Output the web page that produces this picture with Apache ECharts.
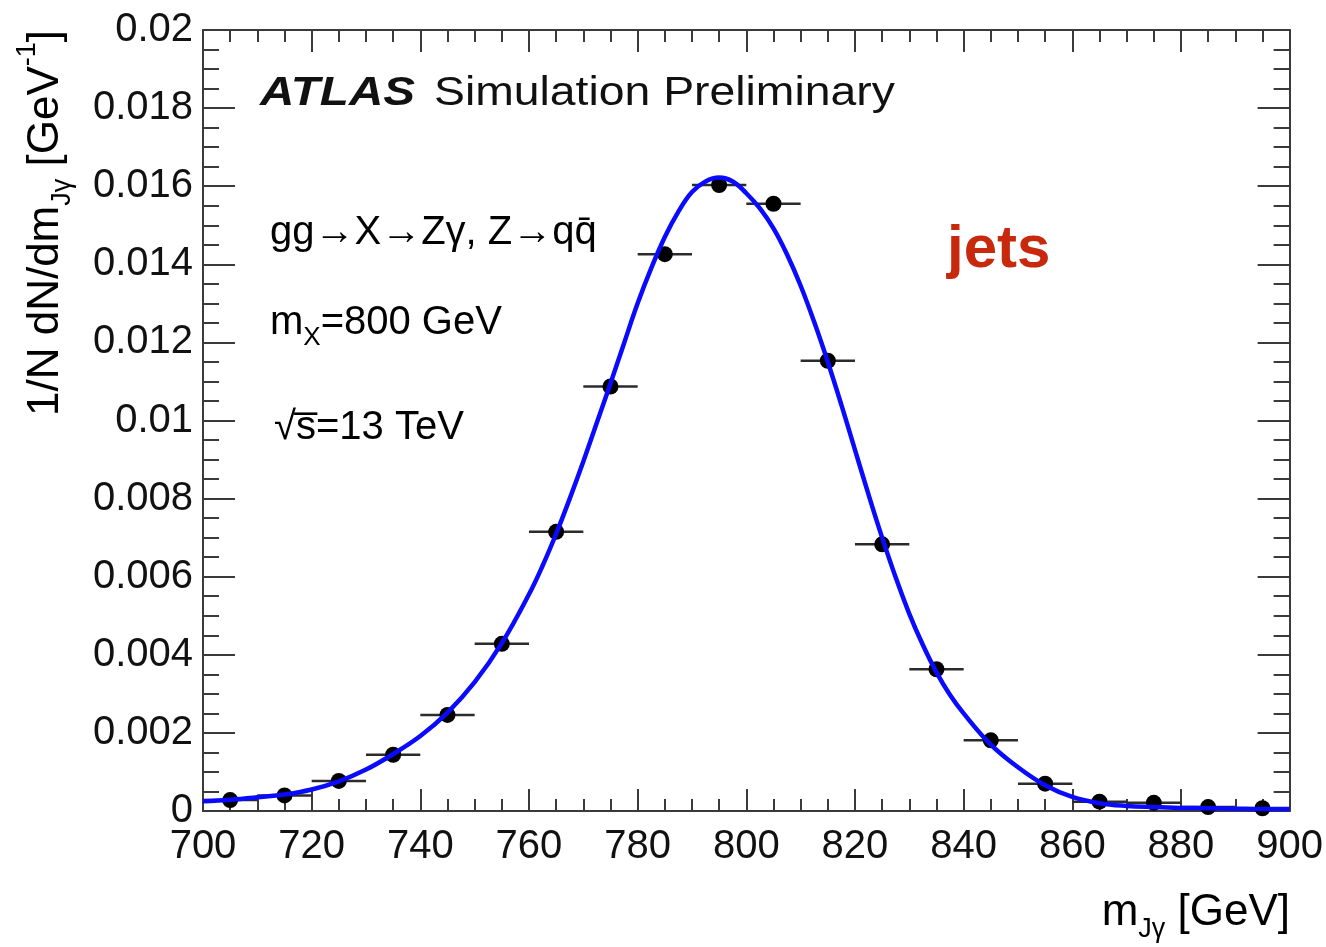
<!DOCTYPE html>
<html>
<head>
<meta charset="utf-8">
<script src="https://cdn.jsdelivr.net/npm/echarts@6/dist/echarts.min.js"></script>
<style>
  html, body { margin: 0; padding: 0; background: #ffffff; }
  #chart { width: 1326px; height: 947px; }
</style>
</head>
<body>
<div id="chart"></div>
<script>
// Normalised m_Jγ distribution for gg→X→Zγ, Z→qq̄ at m_X = 800 GeV, with its fitted signal shape.

// Simulated histogram: bin centres [GeV] and normalised content [1/GeV]
const binCenters = [705, 715, 725, 735, 745, 755, 765, 775, 785, 795,
                    805, 815, 825, 835, 845, 855, 865, 875, 885, 895];
const binContent = [0.00028, 0.00040, 0.00077, 0.00144, 0.00246, 0.00428, 0.00715, 0.01087, 0.01426, 0.01603,
                    0.01555, 0.01153, 0.00683, 0.00363, 0.00181, 0.00070, 0.00024, 0.00021, 0.00010, 0.00007];
const binHalfWidth = 5;

// Fitted signal shape sampled along m_Jγ (finer steps through the core)
const fitMass = [700, 705, 710, 715, 720, 725, 730, 735, 740, 745, 750, 755,
                 760, 762.5, 765, 767.5, 770, 772.5, 775, 777.5, 780, 782.5, 785, 787.5, 790, 792.5,
                 795, 797.5, 800, 802.5, 805, 807.5, 810, 812.5, 815, 817.5, 820, 822.5, 825, 827.5,
                 830, 832.5, 835, 837.5, 840,
                 845, 850, 855, 860, 865, 870, 875, 880, 885, 890, 895, 900];
const fitDensity = [0.00025, 0.00029, 0.00035, 0.00042, 0.00055, 0.00076, 0.00106, 0.00146, 0.00192, 0.00252, 0.00330, 0.00430,
                    0.00555, 0.00628, 0.00710, 0.00800, 0.00895, 0.00995, 0.01095, 0.01198, 0.01300, 0.01390, 0.01470, 0.01535, 0.01585, 0.01612,
                    0.01622, 0.01612, 0.01582, 0.01543, 0.01492, 0.01425, 0.01345, 0.01252, 0.01150, 0.01040, 0.00925, 0.00810, 0.00700, 0.00598,
                    0.00505, 0.00425, 0.00355, 0.00297, 0.00250,
                    0.00170, 0.00112, 0.00066, 0.00036, 0.00020, 0.00013, 0.00010, 0.00008, 0.00007, 0.00006, 0.00005, 0.00005];

// Axis ticks and their labels
const xTicks = [700, 720, 740, 760, 780, 800, 820, 840, 860, 880, 900];
const xTickLabels = ['700', '720', '740', '760', '780', '800', '820', '840', '860', '880', '900'];
const yTicks = [0, 0.002, 0.004, 0.006, 0.008, 0.01, 0.012, 0.014, 0.016, 0.018, 0.02];
const yTickLabels = ['0', '0.002', '0.004', '0.006', '0.008', '0.01', '0.012', '0.014', '0.016', '0.018', '0.02'];

const FONT = '"Liberation Sans", Arial, Helvetica, sans-serif';
const INK = '#111111';
const FRAME = '#3a3a3a';

function tickLabel(ticks, labels) {
  return function (v) {
    const i = ticks.findIndex(t => Math.abs(t - v) < 1e-9);
    return i >= 0 ? labels[i] : '';
  };
}

const points = binCenters.map((m, i) => [m, binContent[i]]);
const fitCurve = fitMass.map((m, i) => [m, fitDensity[i]]);

function xAxisDef(position, showLabels) {
  return {
    type: 'value', gridIndex: 0, position: position,
    min: 700, max: 900, interval: 20,
    axisLine: { show: true, onZero: false, lineStyle: { color: FRAME, width: 2 } },
    axisTick: { show: true, inside: true, length: 22, lineStyle: { color: FRAME, width: 2 } },
    minorTick: { show: true, splitNumber: 4, length: 12, lineStyle: { color: FRAME, width: 2 } },
    splitLine: { show: false },
    minorSplitLine: { show: false },
    axisLabel: {
      show: showLabels, fontFamily: FONT, fontSize: 40, color: INK, margin: 16,
      showMinLabel: true, showMaxLabel: true,
      formatter: tickLabel(xTicks, xTickLabels)
    }
  };
}

function yAxisDef(position, showLabels) {
  return {
    type: 'value', gridIndex: 0, position: position,
    min: 0, max: 0.02, interval: 0.002,
    axisLine: { show: true, onZero: false, lineStyle: { color: FRAME, width: 2 } },
    axisTick: { show: true, inside: true, length: 32, lineStyle: { color: FRAME, width: 2 } },
    minorTick: { show: true, splitNumber: 4, length: 16, lineStyle: { color: FRAME, width: 2 } },
    splitLine: { show: false },
    minorSplitLine: { show: false },
    axisLabel: {
      show: showLabels, fontFamily: FONT, fontSize: 40, color: INK, margin: 10,
      showMinLabel: true, showMaxLabel: true,
      formatter: tickLabel(yTicks, yTickLabels)
    }
  };
}

// rich-text styles: normal, subscript, superscript
const richBase = {
  n: { fontFamily: FONT, fontSize: 40, color: INK, verticalAlign: 'middle' },
  s: { fontFamily: FONT, fontSize: 26, color: INK, verticalAlign: 'middle', padding: [30, 0, 0, 0] },
  p: { fontFamily: FONT, fontSize: 26, color: INK, verticalAlign: 'middle', padding: [0, 0, 30, 0] }
};
const richTitle = {
  n: { fontFamily: FONT, fontSize: 44, color: INK, verticalAlign: 'middle' },
  s: { fontFamily: FONT, fontSize: 27, color: INK, verticalAlign: 'middle', padding: [34, 0, 0, 0] },
  p: { fontFamily: FONT, fontSize: 27, color: INK, verticalAlign: 'middle', padding: [0, 0, 36, 0] }
};

const chart = echarts.init(document.getElementById('chart'), null, { renderer: 'canvas' });

chart.setOption({
  backgroundColor: '#ffffff',
  animation: false,
  grid: { left: 203, top: 30, width: 1087, height: 781, show: false },
  xAxis: [xAxisDef('bottom', true), xAxisDef('top', false)],
  yAxis: [yAxisDef('left', true), yAxisDef('right', false)],
  series: [
    {
      // horizontal bin-width bars
      type: 'custom',
      xAxisIndex: 0, yAxisIndex: 0,
      data: points,
      z: 2,
      renderItem: function (params, api) {
        const m = api.value(0), y = api.value(1);
        const a = api.coord([m - binHalfWidth, y]);
        const b = api.coord([m + binHalfWidth, y]);
        return {
          type: 'line',
          shape: { x1: a[0], y1: a[1], x2: b[0], y2: b[1] },
          style: { stroke: '#2b2b2b', lineWidth: 2.5 }
        };
      }
    },
    {
      type: 'scatter',
      xAxisIndex: 0, yAxisIndex: 0,
      data: points,
      symbol: 'circle',
      symbolSize: 16,
      itemStyle: { color: '#000000', opacity: 1 },
      z: 3
    },
    {
      type: 'line',
      xAxisIndex: 0, yAxisIndex: 0,
      data: fitCurve,
      showSymbol: false,
      smooth: 0.4,
      lineStyle: { color: '#0a0aff', width: 4.5 },
      z: 4
    }
  ],
  graphic: [
    {
      type: 'text', x: 260, y: 94, z: 10, scaleX: 1.16,
      style: {
        text: 'ATLAS',
        fontFamily: FONT, fontSize: 41, fontWeight: 'bold', fontStyle: 'italic', fill: INK,
        align: 'left', verticalAlign: 'middle'
      }
    },
    {
      type: 'text', x: 434, y: 94, z: 10, scaleX: 1.13,
      style: {
        text: 'Simulation Preliminary',
        fontFamily: FONT, fontSize: 41, fill: INK,
        align: 'left', verticalAlign: 'middle'
      }
    },
    {
      type: 'text', x: 270, y: 233, z: 10,
      style: {
        text: '{n|gg→X→Zγ, Z→qq\u0304}',
        align: 'left', verticalAlign: 'middle', rich: richBase
      }
    },
    {
      type: 'text', x: 270, y: 323, z: 10,
      style: {
        text: '{n|m}{s|X}{n|=800 GeV}',
        align: 'left', verticalAlign: 'middle', rich: richBase
      }
    },
    {
      type: 'text', x: 274, y: 428, z: 10,
      style: {
        text: '{n|√s\u0305=13 TeV}',
        align: 'left', verticalAlign: 'middle', rich: richBase
      }
    },
    {
      type: 'text', x: 947, y: 250, z: 10,
      style: {
        text: 'jets',
        fontFamily: FONT, fontSize: 60, fontWeight: 'bold', fill: '#c8290c',
        align: 'left', verticalAlign: 'middle'
      }
    },
    {
      // x-axis title
      type: 'text', x: 1290, y: 913, z: 10,
      style: {
        text: '{n|m}{s|Jγ}{n| [GeV]}',
        align: 'right', verticalAlign: 'middle', rich: richTitle
      }
    },
    {
      // y-axis title, reading bottom to top
      type: 'text', x: 46, y: 30, rotation: Math.PI / 2, z: 10,
      style: {
        text: '{n|1/N dN/dm}{s|Jγ}{n| [GeV}{p|-1}{n|]}',
        align: 'right', verticalAlign: 'middle', rich: richTitle
      }
    }
  ]
});
</script>
</body>
</html>
